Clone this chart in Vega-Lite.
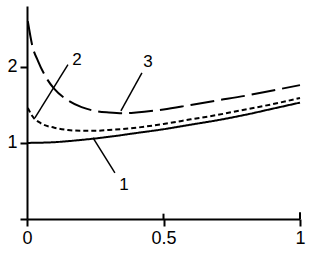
{
  "$schema": "https://vega.github.io/schema/vega-lite/v6.json",
  "width": 273,
  "height": 213,
  "autosize": "none",
  "padding": {"left": 27, "top": 6, "right": 27, "bottom": 37},
  "background": "white",
  "config": {
    "view": {"stroke": null},
    "font": "Liberation Sans",
    "axis": {
      "domainColor": "black",
      "domainWidth": 2,
      "tickColor": "black",
      "tickWidth": 2,
      "grid": false,
      "labelColor": "black",
      "labelFontSize": 18,
      "labelFont": "Liberation Sans",
      "title": null
    }
  },
  "datasets": {
    "curves": [
      {"s": "1", "x": 0, "y": 1.0},
      {"s": "1", "x": 0.1, "y": 1.01},
      {"s": "1", "x": 0.2, "y": 1.04},
      {"s": "1", "x": 0.3, "y": 1.08},
      {"s": "1", "x": 0.4, "y": 1.13},
      {"s": "1", "x": 0.5, "y": 1.18},
      {"s": "1", "x": 0.6, "y": 1.24},
      {"s": "1", "x": 0.7, "y": 1.3},
      {"s": "1", "x": 0.8, "y": 1.37},
      {"s": "1", "x": 0.9, "y": 1.45},
      {"s": "1", "x": 1.0, "y": 1.53},
      {"s": "2", "x": 0.003, "y": 1.46},
      {"s": "2", "x": 0.02, "y": 1.35},
      {"s": "2", "x": 0.05, "y": 1.26},
      {"s": "2", "x": 0.1, "y": 1.2},
      {"s": "2", "x": 0.15, "y": 1.17},
      {"s": "2", "x": 0.2, "y": 1.16},
      {"s": "2", "x": 0.25, "y": 1.16},
      {"s": "2", "x": 0.3, "y": 1.17},
      {"s": "2", "x": 0.4, "y": 1.2},
      {"s": "2", "x": 0.5, "y": 1.25},
      {"s": "2", "x": 0.6, "y": 1.31},
      {"s": "2", "x": 0.7, "y": 1.37},
      {"s": "2", "x": 0.8, "y": 1.44},
      {"s": "2", "x": 0.9, "y": 1.51},
      {"s": "2", "x": 1.0, "y": 1.59},
      {"s": "3", "x": 0.003, "y": 2.6},
      {"s": "3", "x": 0.02, "y": 2.27},
      {"s": "3", "x": 0.04, "y": 2.08},
      {"s": "3", "x": 0.07, "y": 1.86},
      {"s": "3", "x": 0.1, "y": 1.71},
      {"s": "3", "x": 0.15, "y": 1.56},
      {"s": "3", "x": 0.2, "y": 1.47},
      {"s": "3", "x": 0.25, "y": 1.42},
      {"s": "3", "x": 0.3, "y": 1.4},
      {"s": "3", "x": 0.35, "y": 1.39},
      {"s": "3", "x": 0.4, "y": 1.4},
      {"s": "3", "x": 0.5, "y": 1.44},
      {"s": "3", "x": 0.6, "y": 1.5},
      {"s": "3", "x": 0.7, "y": 1.56},
      {"s": "3", "x": 0.8, "y": 1.62},
      {"s": "3", "x": 0.9, "y": 1.69},
      {"s": "3", "x": 1.0, "y": 1.76}
    ],
    "labels": [
      {"t": "1", "x": 0.355, "y": 0.45},
      {"t": "2", "x": 0.183, "y": 2.09},
      {"t": "3", "x": 0.443, "y": 2.07}
    ],
    "leaders": [
      {"x": 0.242, "y": 1.066, "x2": 0.322, "y2": 0.605},
      {"x": 0.15, "y": 2.03, "x2": 0.029, "y2": 1.33},
      {"x": 0.421, "y": 1.92, "x2": 0.344, "y2": 1.42}
    ],
    "innerTicks": [
      {"x": 0.5, "y": 0, "y2": 0.07},
      {"x": 1, "y": 0, "y2": 0.09}
    ]
  },
  "layer": [
    {
      "data": {"name": "curves"},
      "mark": {"type": "line", "color": "black", "strokeWidth": 2, "interpolate": "monotone"},
      "encoding": {
        "x": {
          "field": "x", "type": "quantitative",
          "scale": {"domain": [0, 1], "nice": false},
          "axis": {"values": [0, 0.5, 1], "tickSize": 7, "labelPadding": 3, "labelFlush": false, "labelExpr": "datum.value == 0 ? '0' : datum.value == 1 ? '1' : '0.5'"}
        },
        "y": {
          "field": "y", "type": "quantitative",
          "scale": {"domain": [0, 2.8], "nice": false, "zero": true},
          "axis": {"values": [0, 1, 2], "tickSize": 7, "labelPadding": 3, "labelExpr": "datum.value == 0 ? '' : datum.value == 1 ? '1' : '2'"}
        },
        "strokeDash": {
          "field": "s", "type": "nominal",
          "scale": {"domain": ["1", "2", "3"], "range": [[1, 0], [5, 3], [24, 7]]},
          "legend": null
        }
      }
    },
    {
      "data": {"name": "leaders"},
      "mark": {"type": "rule", "color": "black", "strokeWidth": 1.5},
      "encoding": {
        "x": {"field": "x", "type": "quantitative"},
        "y": {"field": "y", "type": "quantitative"},
        "x2": {"field": "x2"},
        "y2": {"field": "y2"}
      }
    },
    {
      "data": {"name": "innerTicks"},
      "mark": {"type": "rule", "color": "black", "strokeWidth": 2},
      "encoding": {
        "x": {"field": "x", "type": "quantitative"},
        "y": {"field": "y", "type": "quantitative"},
        "y2": {"field": "y2"}
      }
    },
    {
      "data": {"name": "labels"},
      "mark": {"type": "text", "color": "black", "fontSize": 17, "align": "center", "baseline": "middle", "font": "Liberation Sans"},
      "encoding": {
        "x": {"field": "x", "type": "quantitative"},
        "y": {"field": "y", "type": "quantitative"},
        "text": {"field": "t"}
      }
    }
  ]
}
